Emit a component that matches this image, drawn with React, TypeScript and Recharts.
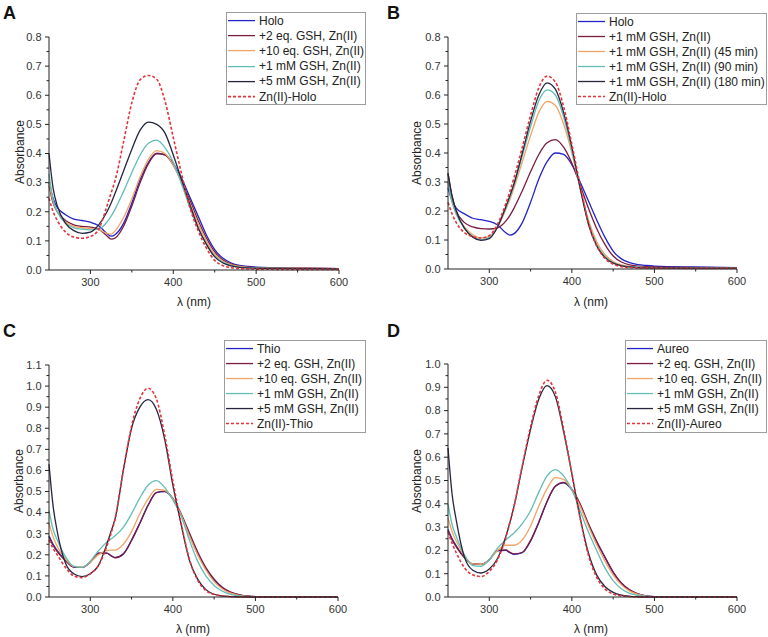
import React from 'react';
import { LineChart, Line, XAxis, YAxis } from 'recharts';

const FONT = '"Liberation Sans", Arial, Helvetica, sans-serif';

// wavelength grid (nm)
const wavelengths = [250, 255, 260, 270, 280, 290, 300, 310, 320, 325, 330, 340, 350, 360, 370, 380, 390, 400, 410, 420, 430, 440, 450, 460, 470, 480, 490, 500, 550, 600];

const xTicks = [300, 350, 400, 450, 500, 550, 600];
const yTicks08 = [0, 0.05, 0.1, 0.15, 0.2, 0.25, 0.3, 0.35, 0.4, 0.45, 0.5, 0.55, 0.6, 0.65, 0.7, 0.75, 0.8];
const yTicks11 = [0, 0.05, 0.1, 0.15, 0.2, 0.25, 0.3, 0.35, 0.4, 0.45, 0.5, 0.55, 0.6, 0.65, 0.7, 0.75, 0.8, 0.85, 0.9, 0.95, 1.0, 1.05, 1.1];
const yTicks10 = [0, 0.05, 0.1, 0.15, 0.2, 0.25, 0.3, 0.35, 0.4, 0.45, 0.5, 0.55, 0.6, 0.65, 0.7, 0.75, 0.8, 0.85, 0.9, 0.95, 1.0];

// Panel A
const namesA = ['Holo', '+2 eq. GSH, Zn(II)', '+10 eq. GSH, Zn(II)', '+1 mM GSH, Zn(II)', '+5 mM GSH, Zn(II)', 'Zn(II)-Holo'];
const holoA = [0.30, 0.245, 0.215, 0.19, 0.175, 0.17, 0.164, 0.152, 0.125, 0.116, 0.122, 0.16, 0.23, 0.31, 0.37, 0.40, 0.395, 0.365, 0.315, 0.25, 0.185, 0.12, 0.07, 0.04, 0.024, 0.016, 0.012, 0.01, 0.007, 0.005];
const eq2A = [0.29, 0.23, 0.2, 0.17, 0.155, 0.15, 0.147, 0.14, 0.117, 0.106, 0.11, 0.15, 0.22, 0.3, 0.365, 0.4, 0.395, 0.36, 0.305, 0.24, 0.17, 0.11, 0.062, 0.034, 0.02, 0.013, 0.01, 0.008, 0.006, 0.005];
const eq10A = [0.30, 0.235, 0.2, 0.165, 0.15, 0.145, 0.143, 0.138, 0.126, 0.123, 0.135, 0.18, 0.245, 0.32, 0.38, 0.41, 0.4, 0.36, 0.3, 0.23, 0.16, 0.1, 0.055, 0.03, 0.018, 0.012, 0.009, 0.008, 0.006, 0.005];
const mm1A = [0.33, 0.24, 0.2, 0.16, 0.145, 0.14, 0.138, 0.14, 0.165, 0.185, 0.21, 0.27, 0.335, 0.395, 0.435, 0.446, 0.42, 0.37, 0.295, 0.215, 0.145, 0.09, 0.048, 0.026, 0.015, 0.01, 0.008, 0.007, 0.005, 0.004];
const mm5A = [0.40, 0.28, 0.22, 0.16, 0.135, 0.126, 0.13, 0.155, 0.2, 0.23, 0.265, 0.34, 0.415, 0.48, 0.508, 0.5, 0.47, 0.395, 0.31, 0.225, 0.145, 0.088, 0.045, 0.024, 0.014, 0.009, 0.007, 0.006, 0.005, 0.004];
const znHoloA = [0.246, 0.2, 0.17, 0.13, 0.113, 0.109, 0.115, 0.14, 0.22, 0.265, 0.31, 0.44, 0.575, 0.653, 0.668, 0.655, 0.58, 0.455, 0.33, 0.215, 0.135, 0.075, 0.033, 0.015, 0.008, 0.005, 0.004, 0.003, 0.002, 0.002];

// Panel B
const namesB = ['Holo', '+1 mM GSH, Zn(II)', '+1 mM GSH, Zn(II) (45 min)', '+1 mM GSH, Zn(II) (90 min)', '+1 mM GSH, Zn(II) (180 min)', 'Zn(II)-Holo'];
const holoB = [0.28, 0.235, 0.21, 0.19, 0.175, 0.17, 0.164, 0.152, 0.125, 0.117, 0.122, 0.16, 0.23, 0.31, 0.37, 0.40, 0.395, 0.36, 0.3, 0.235, 0.17, 0.11, 0.062, 0.035, 0.022, 0.015, 0.012, 0.01, 0.007, 0.005];
const t0B = [0.33, 0.25, 0.2, 0.16, 0.145, 0.139, 0.138, 0.142, 0.165, 0.185, 0.21, 0.27, 0.335, 0.395, 0.435, 0.446, 0.42, 0.365, 0.29, 0.21, 0.14, 0.085, 0.045, 0.024, 0.014, 0.01, 0.008, 0.007, 0.005, 0.004];
const t45B = [0.3, 0.23, 0.19, 0.145, 0.118, 0.107, 0.112, 0.145, 0.205, 0.24, 0.28, 0.37, 0.46, 0.54, 0.578, 0.565, 0.5, 0.4, 0.28, 0.17, 0.095, 0.05, 0.026, 0.014, 0.009, 0.006, 0.005, 0.004, 0.003, 0.003];
const t90B = [0.3, 0.23, 0.19, 0.14, 0.112, 0.101, 0.108, 0.145, 0.21, 0.248, 0.29, 0.39, 0.49, 0.58, 0.618, 0.6, 0.525, 0.41, 0.28, 0.16, 0.085, 0.043, 0.022, 0.012, 0.008, 0.006, 0.005, 0.004, 0.003, 0.003];
const t180B = [0.33, 0.25, 0.2, 0.14, 0.11, 0.099, 0.105, 0.145, 0.215, 0.253, 0.295, 0.4, 0.51, 0.6, 0.642, 0.62, 0.54, 0.42, 0.28, 0.155, 0.08, 0.04, 0.02, 0.011, 0.007, 0.005, 0.004, 0.004, 0.003, 0.003];
const znHoloB = [0.23, 0.19, 0.16, 0.125, 0.112, 0.107, 0.115, 0.155, 0.225, 0.268, 0.315, 0.42, 0.53, 0.625, 0.665, 0.645, 0.56, 0.43, 0.29, 0.16, 0.08, 0.037, 0.017, 0.008, 0.005, 0.004, 0.003, 0.003, 0.002, 0.002];

// Panel C
const namesC = ['Thio', '+2 eq. GSH, Zn(II)', '+10 eq. GSH, Zn(II)', '+1 mM GSH, Zn(II)', '+5 mM GSH, Zn(II)', 'Zn(II)-Thio'];
const thioC = [0.29, 0.25, 0.22, 0.175, 0.142, 0.14, 0.165, 0.208, 0.208, 0.196, 0.187, 0.205, 0.27, 0.35, 0.435, 0.495, 0.5, 0.465, 0.39, 0.295, 0.205, 0.135, 0.08, 0.043, 0.022, 0.01, 0.004, 0.002, 0, 0];
const eq2C = [0.285, 0.245, 0.215, 0.172, 0.142, 0.14, 0.165, 0.207, 0.208, 0.196, 0.186, 0.203, 0.268, 0.35, 0.435, 0.495, 0.502, 0.468, 0.395, 0.305, 0.215, 0.14, 0.085, 0.046, 0.023, 0.011, 0.005, 0.002, 0, 0];
const eq10C = [0.35, 0.285, 0.24, 0.18, 0.145, 0.143, 0.165, 0.2, 0.22, 0.222, 0.222, 0.25, 0.31, 0.395, 0.465, 0.51, 0.505, 0.465, 0.39, 0.29, 0.2, 0.127, 0.073, 0.038, 0.018, 0.008, 0.003, 0.001, 0, 0];
const mm1C = [0.41, 0.32, 0.27, 0.19, 0.145, 0.14, 0.17, 0.22, 0.26, 0.275, 0.29, 0.33, 0.395, 0.47, 0.53, 0.552, 0.52, 0.46, 0.385, 0.27, 0.17, 0.1, 0.055, 0.027, 0.012, 0.005, 0.002, 0, 0, 0];
const mm5C = [0.63, 0.43, 0.31, 0.16, 0.11, 0.097, 0.11, 0.15, 0.25, 0.31, 0.37, 0.6, 0.8, 0.9, 0.936, 0.89, 0.75, 0.53, 0.345, 0.175, 0.085, 0.035, 0.013, 0.005, 0.002, 0.001, 0, 0, 0, 0];
const znThioC = [0.27, 0.23, 0.2, 0.14, 0.1, 0.092, 0.11, 0.15, 0.24, 0.3, 0.37, 0.6, 0.81, 0.94, 0.99, 0.94, 0.77, 0.55, 0.35, 0.18, 0.08, 0.03, 0.012, 0.005, 0.002, 0, 0, 0, 0, 0];

// Panel D
const namesD = ['Aureo', '+2 eq. GSH, Zn(II)', '+10 eq. GSH, Zn(II)', '+1 mM GSH, Zn(II)', '+5 mM GSH, Zn(II)', 'Zn(II)-Aureo'];
const aureoD = [0.29, 0.25, 0.22, 0.17, 0.142, 0.14, 0.16, 0.198, 0.2, 0.19, 0.183, 0.19, 0.24, 0.32, 0.41, 0.475, 0.49, 0.46, 0.395, 0.31, 0.235, 0.17, 0.105, 0.058, 0.03, 0.013, 0.005, 0.002, 0, 0];
const eq2D = [0.285, 0.245, 0.215, 0.168, 0.142, 0.14, 0.16, 0.2, 0.202, 0.192, 0.185, 0.192, 0.243, 0.322, 0.41, 0.475, 0.492, 0.463, 0.4, 0.315, 0.24, 0.172, 0.108, 0.06, 0.031, 0.014, 0.005, 0.002, 0, 0];
const eq10D = [0.34, 0.28, 0.24, 0.175, 0.142, 0.14, 0.16, 0.2, 0.222, 0.222, 0.222, 0.245, 0.305, 0.39, 0.465, 0.512, 0.505, 0.46, 0.39, 0.305, 0.225, 0.155, 0.095, 0.052, 0.025, 0.011, 0.004, 0.001, 0, 0];
const mm1D = [0.4, 0.31, 0.26, 0.18, 0.135, 0.132, 0.16, 0.21, 0.245, 0.26, 0.275, 0.315, 0.37, 0.45, 0.52, 0.547, 0.52, 0.46, 0.37, 0.28, 0.2, 0.125, 0.07, 0.035, 0.016, 0.007, 0.003, 0.001, 0, 0];
const mm5D = [0.64, 0.44, 0.33, 0.17, 0.115, 0.103, 0.12, 0.165, 0.26, 0.32, 0.39, 0.56, 0.72, 0.85, 0.907, 0.86, 0.71, 0.53, 0.34, 0.19, 0.095, 0.045, 0.02, 0.008, 0.003, 0.001, 0, 0, 0, 0];
const znAureoD = [0.28, 0.23, 0.19, 0.125, 0.095, 0.088, 0.11, 0.16, 0.255, 0.32, 0.39, 0.565, 0.73, 0.865, 0.93, 0.88, 0.72, 0.53, 0.34, 0.18, 0.085, 0.035, 0.013, 0.005, 0.002, 0, 0, 0, 0, 0];

// same colour order in every panel
const colors = ['#2323c8', '#7b1c3e', '#f2a466', '#62bdb5', '#25253f', '#e2343a'];

type Panel = {
  letter: string;
  left: number;
  top: number;
  width: number;
  height: number;
  margin: { top: number; right: number; bottom: number; left: number };
  yMax: number;
  yTicks: number[];
  names: string[];
  series: number[][];
  legend: { left: number; top: number; width: number; line: number; rowH: number };
  yLabel: { x: number; y: number };
  xLabel: { x: number; y: number };
};

// margins leave 1px for the axis boxes (an axis with 0 size is not drawn)
const panels: Panel[] = [
  {
    letter: 'A', left: 0, top: 0, width: 384, height: 318,
    margin: { top: 37, right: 45, bottom: 47, left: 48 },
    yMax: 0.8, yTicks: yTicks08, names: namesA,
    series: [holoA, eq2A, eq10A, mm1A, mm5A, znHoloA],
    legend: { left: 226, top: 12, width: 140, line: 27, rowH: 15.2 },
    yLabel: { x: 20, y: 152 }, xLabel: { x: 194, y: 302 },
  },
  {
    letter: 'B', left: 384, top: 0, width: 384, height: 318,
    margin: { top: 37, right: 31, bottom: 48, left: 63 },
    yMax: 0.8, yTicks: yTicks08, names: namesB,
    series: [holoB, t0B, t45B, t90B, t180B, znHoloB],
    legend: { left: 576, top: 13, width: 191, line: 27, rowH: 15 },
    yLabel: { x: 417, y: 153 }, xLabel: { x: 591, y: 302 },
  },
  {
    letter: 'C', left: 0, top: 318, width: 384, height: 319,
    margin: { top: 47, right: 46, bottom: 39, left: 48 },
    yMax: 1.1, yTicks: yTicks11, names: namesC,
    series: [thioC, eq2C, eq10C, mm1C, mm5C, znThioC],
    legend: { left: 224, top: 340, width: 142, line: 27, rowH: 15.1 },
    yLabel: { x: 19, y: 481 }, xLabel: { x: 193, y: 629 },
  },
  {
    letter: 'D', left: 384, top: 318, width: 384, height: 319,
    margin: { top: 46, right: 31, bottom: 39, left: 63 },
    yMax: 1.0, yTicks: yTicks10, names: namesD,
    series: [aureoD, eq2D, eq10D, mm1D, mm5D, znAureoD],
    legend: { left: 625, top: 340, width: 142, line: 26, rowH: 15.1 },
    yLabel: { x: 417, y: 481 }, xLabel: { x: 591, y: 629 },
  },
];

const XTick = (props: any) => {
  const { x, y, payload } = props;
  const major = payload.value % 100 === 0;
  return (
    <g>
      <line x1={x} x2={x} y1={y} y2={y + (major ? 4 : 2.5)} stroke="#222" strokeWidth={1} />
      {major && (
        <text x={x} y={y + 16} textAnchor="middle" fontSize={11} fill="#333" fontFamily={FONT}>
          {payload.value}
        </text>
      )}
    </g>
  );
};

const YTick = (props: any) => {
  const { x, y, payload } = props;
  const v = payload.value as number;
  const major = Math.abs(v * 10 - Math.round(v * 10)) < 1e-6;
  return (
    <g>
      <line x1={x - (major ? 4 : 2.5)} x2={x} y1={y} y2={y} stroke="#222" strokeWidth={1} />
      {major && (
        <text x={x - 7.5} y={y} dy="0.35em" textAnchor="end" fontSize={11} fill="#333" fontFamily={FONT}>
          {v.toFixed(1)}
        </text>
      )}
    </g>
  );
};

function SpectrumPanel({ p }: { p: Panel }) {
  const data = wavelengths.map((w, i) => {
    const row: Record<string, number> = { w };
    p.series.forEach((s, k) => { row['s' + k] = s[i]; });
    return row;
  });

  return (
    <>
      <div style={{ position: 'absolute', left: p.left, top: p.top }}>
        <LineChart width={p.width} height={p.height} data={data} margin={p.margin}>
          <XAxis
            dataKey="w" type="number" domain={[250, 600]} ticks={xTicks} interval={0}
            height={1} tickSize={0} tickMargin={0} tickLine={false}
            axisLine={{ stroke: '#222' }} tick={<XTick />}
          />
          <YAxis
            type="number" domain={[0, p.yMax]} ticks={p.yTicks} interval={0}
            width={1} tickSize={0} tickMargin={0} tickLine={false}
            axisLine={{ stroke: '#222' }} tick={<YTick />}
          />
          {p.series.map((_, k) => (
            <Line
              key={k}
              type="monotone"
              dataKey={'s' + k}
              stroke={colors[k]}
              strokeWidth={k === 5 ? 1.6 : 1.3}
              strokeDasharray={k === 5 ? '3 2' : undefined}
              dot={false}
              activeDot={false}
              isAnimationActive={false}
            />
          ))}
        </LineChart>
      </div>

      <div style={{ position: 'absolute', left: p.left + 3, top: p.top + 3, fontSize: 18, fontWeight: 'bold', fontFamily: FONT, color: '#111' }}>
        {p.letter}
      </div>

      <div style={{ position: 'absolute', left: p.yLabel.x, top: p.yLabel.y, transform: 'translate(-50%, -50%) rotate(-90deg)', fontSize: 12, fontFamily: FONT, color: '#222', whiteSpace: 'nowrap' }}>
        Absorbance
      </div>
      <div style={{ position: 'absolute', left: p.xLabel.x, top: p.xLabel.y, transform: 'translate(-50%, -50%)', fontSize: 12, fontFamily: FONT, color: '#222', whiteSpace: 'nowrap' }}>
        λ (nm)
      </div>

      <div style={{ position: 'absolute', left: p.legend.left, top: p.legend.top, width: p.legend.width, border: '1px solid #9c9c9c', background: '#fff', boxSizing: 'border-box', fontFamily: FONT, fontSize: 12, color: '#222' }}>
        {p.names.map((name, k) => (
          <div key={name + k} style={{ display: 'flex', alignItems: 'center', height: p.legend.rowH }}>
            <svg width={p.legend.line + 2} height={p.legend.rowH} style={{ flex: 'none' }}>
              <line x1={1} x2={p.legend.line + 1} y1={p.legend.rowH / 2} y2={p.legend.rowH / 2}
                stroke={colors[k]} strokeWidth={k === 5 ? 1.6 : 1.3} strokeDasharray={k === 5 ? '3 2' : undefined} />
            </svg>
            <span style={{ marginLeft: 3, whiteSpace: 'nowrap', lineHeight: 1 }}>{name}</span>
          </div>
        ))}
      </div>
    </>
  );
}

export default function App() {
  return (
    <div style={{ position: 'absolute', left: 0, top: 0, width: 768, height: 637, background: '#fff', overflow: 'hidden' }}>
      {panels.map((p) => (
        <SpectrumPanel key={p.letter} p={p} />
      ))}
    </div>
  );
}
